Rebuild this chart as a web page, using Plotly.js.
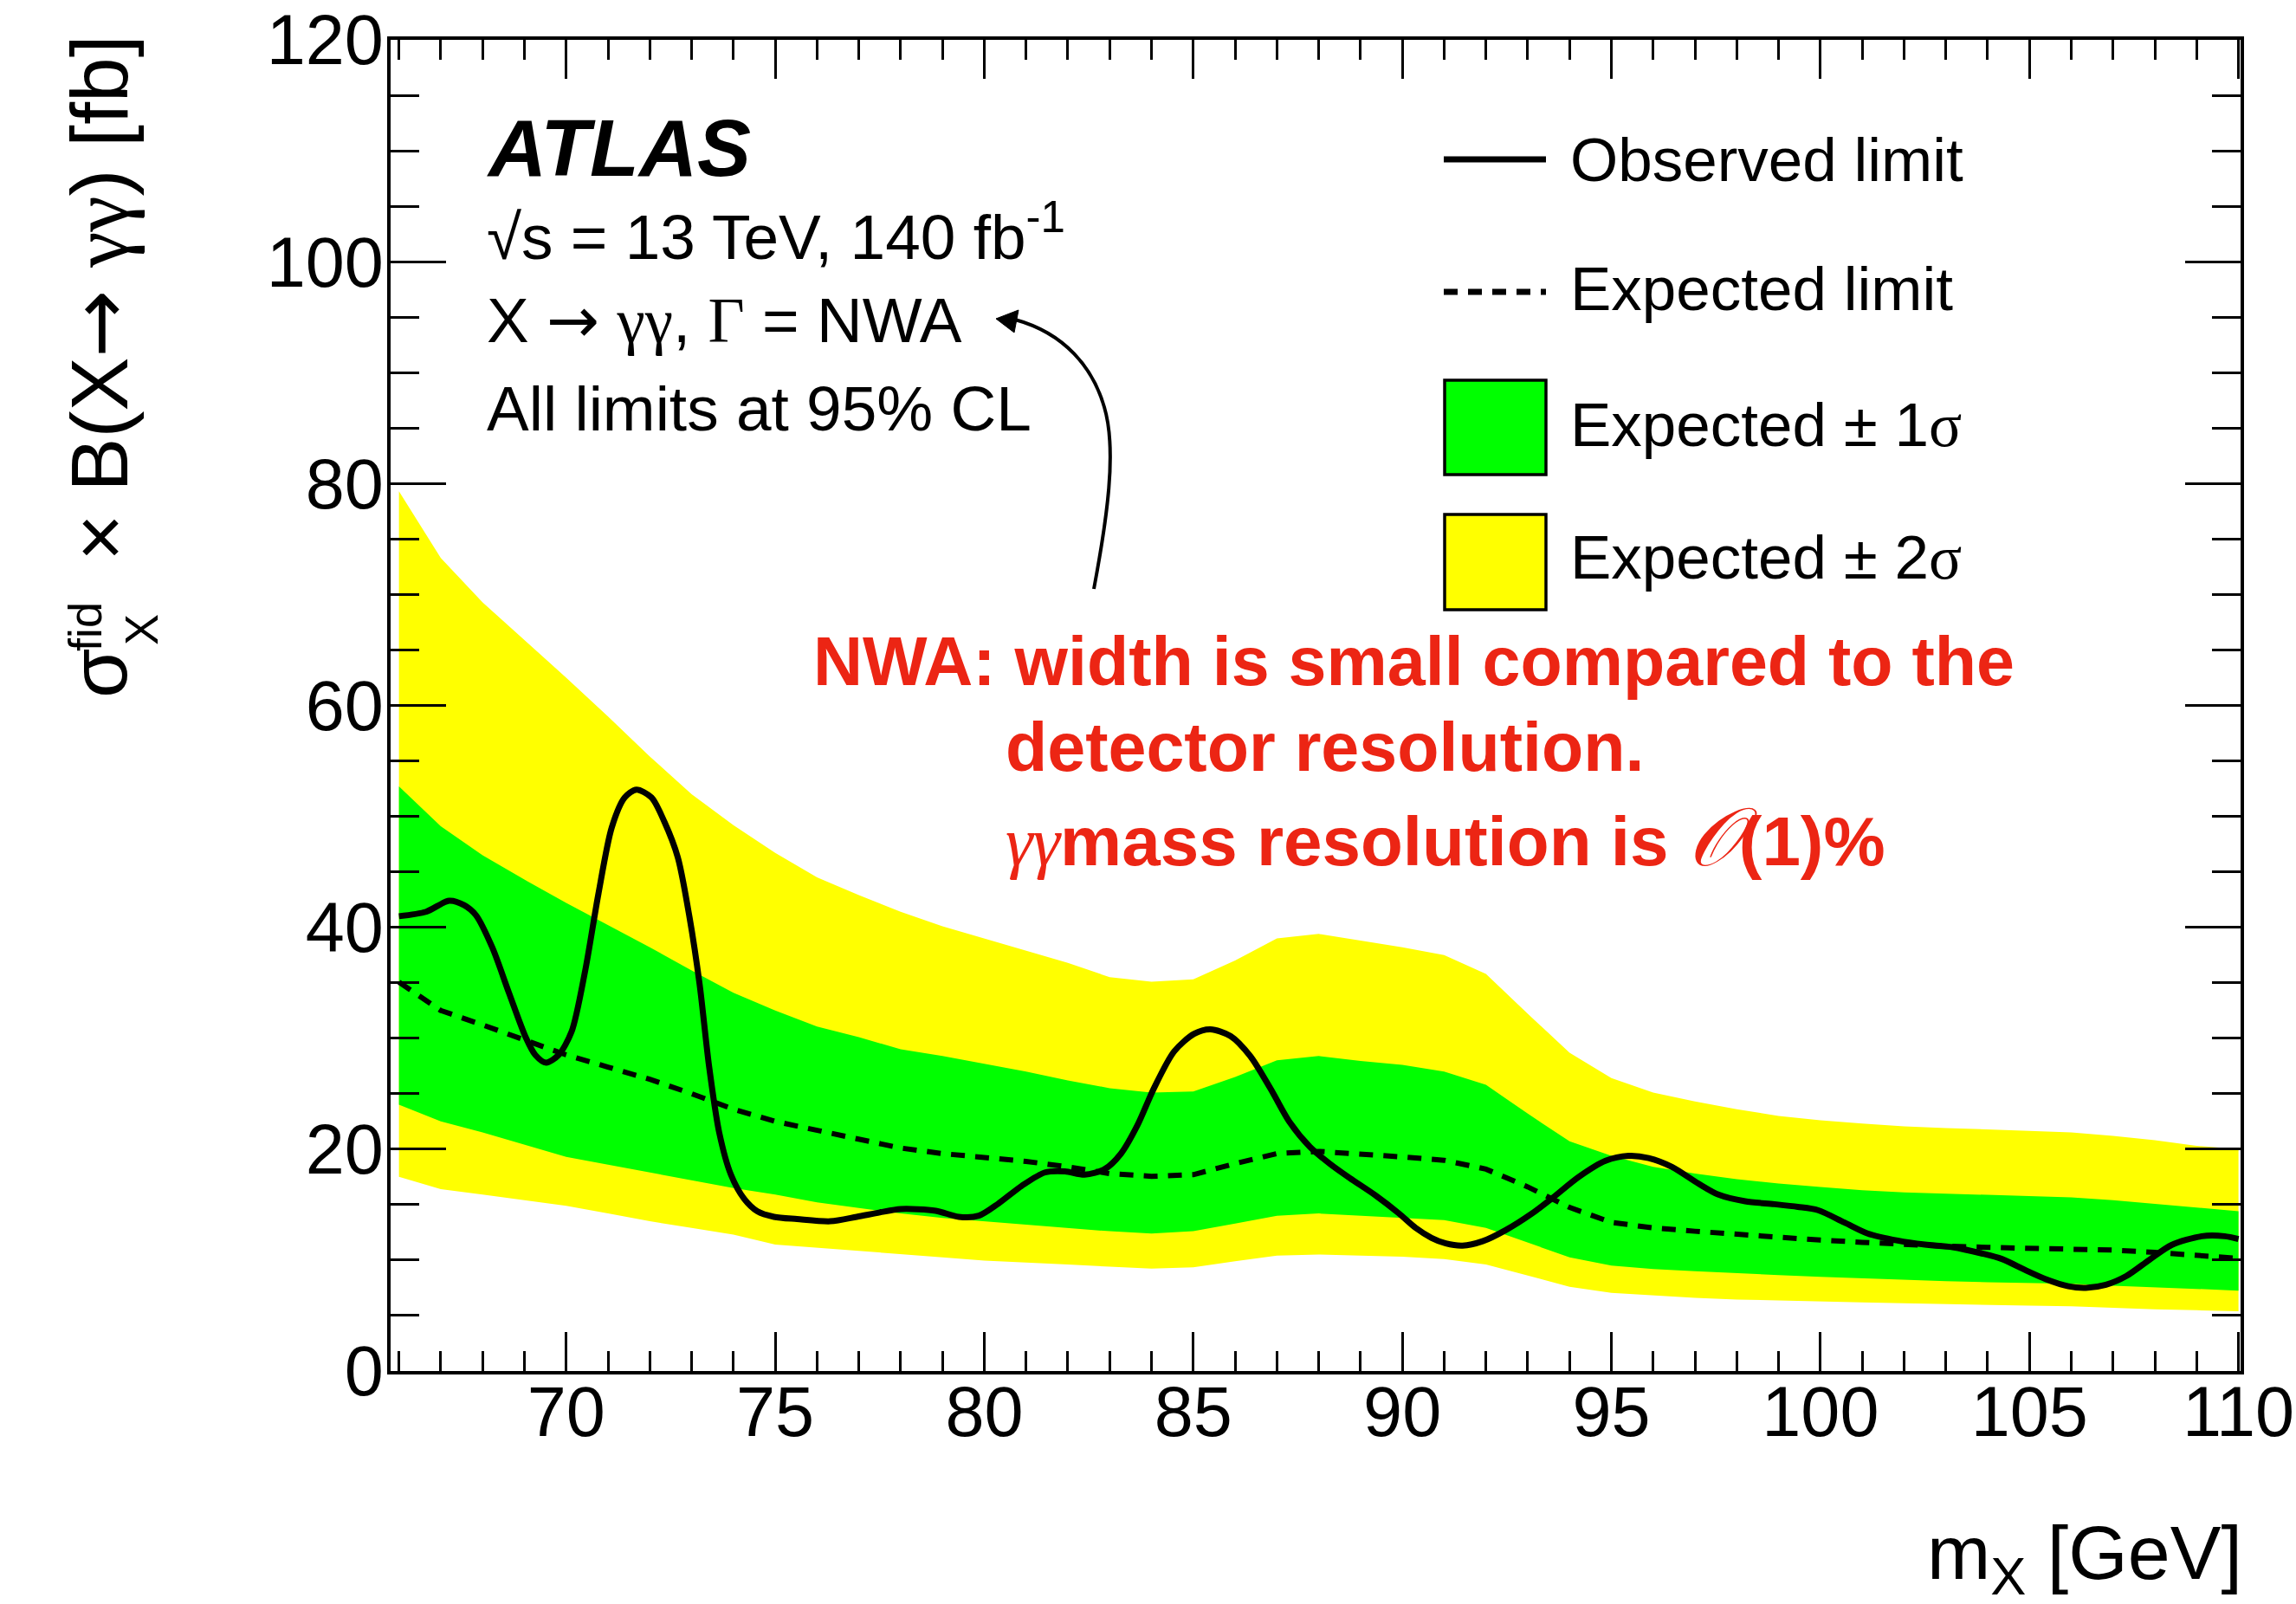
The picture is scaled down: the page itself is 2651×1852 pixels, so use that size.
<!DOCTYPE html>
<html>
<head>
<meta charset="utf-8">
<script src="https://cdn.plot.ly/plotly-3.0.1.min.js"></script>
<style>
  html, body { margin: 0; padding: 0; background: #ffffff; }
  #chart { width: 2651px; height: 1852px; }
</style>
</head>
<body>
<div id="chart"></div>
<script>
// Mass grid (GeV) of the expected limit and its uncertainty bands
const massGrid = [66, 67, 68, 69, 70, 71, 72, 73, 74, 75,
                  76, 77, 78, 79, 80, 81, 82, 83, 84, 85,
                  86, 87, 88, 89, 90, 91, 92, 93, 94, 95,
                  96, 97, 98, 99, 100, 101, 102, 103, 104, 105,
                  106, 107, 108, 109, 110];

// Expected 95% CL limit [fb]
const expectedLimit = [35.05, 32.5, 31.2, 29.8, 28.5, 27.4, 26.3, 25.0, 23.6, 22.5,
                       21.7, 20.9, 20.1, 19.6, 19.3, 18.9, 18.4, 17.8, 17.55, 17.7,
                       18.7, 19.6, 19.8, 19.6, 19.3, 19.0, 18.2, 16.6, 14.75, 13.4,
                       12.9, 12.6, 12.3, 12.0, 11.8, 11.6, 11.4, 11.25, 11.15, 11.1,
                       11.04, 10.9, 10.7, 10.4, 10.16];

// +-1 sigma band edges [fb]
const band1Up = [52.7, 49.1, 46.5, 44.3, 42.2, 40.2, 38.2, 36.1, 34.1, 32.5,
                 31.05, 30.1, 29.0, 28.4, 27.7, 27.0, 26.2, 25.5, 25.1, 25.2,
                 26.5, 28.0, 28.4, 27.96, 27.6, 27.0, 25.8, 23.2, 20.7, 19.4,
                 18.4, 17.8, 17.3, 16.9, 16.6, 16.3, 16.1, 16.0, 15.9, 15.8,
                 15.66, 15.4, 15.07, 14.7, 14.4];
const band1Down = [24.0, 22.5, 21.5, 20.4, 19.3, 18.6, 17.9, 17.2, 16.5, 15.9,
                   15.2, 14.7, 14.2, 13.8, 13.5, 13.2, 12.9, 12.6, 12.4, 12.6,
                   13.3, 14.0, 14.2, 14.0, 13.8, 13.6, 12.9, 11.6, 10.25, 9.5,
                   9.2, 9.0, 8.8, 8.65, 8.5, 8.35, 8.2, 8.1, 8.0, 7.93,
                   7.86, 7.7, 7.56, 7.4, 7.25];

// +-2 sigma band edges [fb]
const band2Up = [79.3, 73.3, 69.3, 65.9, 62.5, 59.0, 55.4, 52.0, 49.2, 46.7,
                 44.5, 42.9, 41.4, 40.1, 39.0, 37.9, 36.8, 35.5, 35.1, 35.3,
                 37.0, 39.0, 39.4, 38.8, 38.2, 37.5, 35.8, 32.2, 28.7, 26.4,
                 25.1, 24.3, 23.6, 23.0, 22.6, 22.3, 22.05, 21.9, 21.8, 21.65,
                 21.5, 21.2, 20.8, 20.3, 20.0];
const band2Down = [17.5, 16.4, 15.9, 15.4, 14.9, 14.2, 13.5, 12.9, 12.3, 11.4,
                   11.1, 10.8, 10.5, 10.25, 9.96, 9.8, 9.6, 9.4, 9.23, 9.34,
                   9.9, 10.4, 10.5, 10.4, 10.3, 10.1, 9.6, 8.6, 7.6, 7.05,
                   6.8, 6.6, 6.45, 6.35, 6.24, 6.18, 6.1, 6.05, 5.97, 5.9,
                   5.84, 5.7, 5.57, 5.48, 5.39];

// Observed 95% CL limit [fb]
const obsMass = [66.0, 66.65, 67.2, 67.56, 67.84, 68.23, 68.63, 69.03, 69.26, 69.52,
                 69.82, 70.13, 70.45, 70.77, 71.09, 71.40, 71.68, 72.04, 72.35, 72.67,
                 72.95, 73.19, 73.42, 73.66, 73.94, 74.26, 74.57, 74.97, 75.52, 76.32,
                 76.95, 77.5, 78.0, 78.84, 79.39, 79.87, 80.34, 80.9, 81.45, 81.93,
                 82.4, 82.88, 83.27, 83.67, 84.06, 84.54, 85.02, 85.41, 85.89, 86.36,
                 86.84, 87.31, 87.79, 88.26, 88.74, 89.37, 89.92, 90.32, 90.7, 91.04,
                 91.44, 91.92, 92.47, 93.1, 93.59, 94.22, 94.86, 95.41, 95.89, 96.45,
                 97.08, 97.56, 98.2, 98.9, 99.46, 99.94, 100.57, 101.13, 101.85, 102.5,
                 103.16, 103.86, 104.34, 104.9, 105.38, 105.93, 106.35, 106.83, 107.32, 107.87,
                 108.4, 109.12, 109.67, 110.0];
const obsLimit = [41.0, 41.4, 42.4, 42.0, 41.1, 38.2, 34.1, 30.1, 28.5, 27.8,
                  28.5, 30.6, 36.0, 43.0, 49.0, 51.7, 52.4, 51.7, 49.5, 46.3,
                  40.9, 34.9, 27.4, 21.5, 17.7, 15.5, 14.4, 13.9, 13.7, 13.5,
                  13.9, 14.3, 14.6, 14.45, 13.9, 14.0, 15.1, 16.7, 17.9, 18.0,
                  17.7, 18.2, 19.6, 22.2, 25.5, 28.8, 30.4, 30.8, 30.2, 28.4,
                  25.5, 22.4, 20.2, 18.7, 17.4, 15.8, 14.2, 12.9, 12.0, 11.5,
                  11.3, 11.7, 12.7, 14.2, 15.6, 17.5, 18.95, 19.4, 19.2, 18.4,
                  16.9, 15.9, 15.3, 15.04, 14.8, 14.5, 13.4, 12.4, 11.76, 11.4,
                  11.17, 10.6, 10.1, 9.1, 8.3, 7.64, 7.5, 7.78, 8.57, 10.03,
                  11.36, 12.15, 12.15, 11.9];

// Legend entries
const legendLabels = ['Observed limit', 'Expected limit',
                      'Expected ± 1<span style="font-family:\'Liberation Serif\'">σ</span>',
                      'Expected ± 2<span style="font-family:\'Liberation Serif\'">σ</span>'];

// ---- frame geometry (pixels) ----
const W = 2651, H = 1852;
const frameL = 451, frameR = 2587, frameT = 46, frameB = 1583;
const PX = px => (px - frameL) / (frameR - frameL);
const PY = py => (frameB - py) / (frameB - frameT);

const SANS = 'Liberation Sans, Arial, Helvetica, sans-serif';
const SERIF = "'Liberation Serif'";
const ARROWFONT = "'DejaVu Sans'";
const YELLOW = '#ffff00', GREEN = '#00ff00', RED = '#ec2514';
const DASH = '16px,12px';

const bandLine = { width: 0, color: 'rgba(0,0,0,0)' };
const traces = [
  { x: massGrid, y: band2Down, mode: 'lines', line: bandLine, hoverinfo: 'skip', showlegend: false },
  { x: massGrid, y: band2Up, mode: 'lines', line: bandLine, fill: 'tonexty', fillcolor: YELLOW,
    hoverinfo: 'skip', showlegend: false },
  { x: massGrid, y: band1Down, mode: 'lines', line: bandLine, hoverinfo: 'skip', showlegend: false },
  { x: massGrid, y: band1Up, mode: 'lines', line: bandLine, fill: 'tonexty', fillcolor: GREEN,
    hoverinfo: 'skip', showlegend: false },
  { x: massGrid, y: expectedLimit, mode: 'lines', name: 'Expected limit',
    line: { color: '#000000', width: 6, dash: DASH }, showlegend: false },
  { x: obsMass, y: obsLimit, mode: 'lines', name: 'Observed limit',
    line: { color: '#000000', width: 7, shape: 'spline', smoothing: 0.8 }, showlegend: false }
];

// left-anchored text placed by its baseline (pixels)
function textAt(left, baseline, size, text, extra) {
  return Object.assign({
    xref: 'paper', yref: 'paper', x: PX(left), y: PY(baseline + 0.212 * size + 2),
    xanchor: 'left', yanchor: 'bottom', showarrow: false, text: text, borderpad: 0,
    font: { family: SANS, size: size, color: '#000000' }
  }, extra || {});
}

const annotations = [
  textAt(561, 202, 93, '<b><i>ATLAS</i></b>'),
  textAt(561, 298, 73, '√s = 13 TeV, 140 fb<sup>-1</sup>'),
  textAt(561, 396, 73, 'X <span style="font-family:' + ARROWFONT + '">→</span> <span style="font-family:' + SERIF + '">γγ</span>, <span style="font-family:' + SERIF + '">Γ</span> = NWA'),
  textAt(561, 496, 73, 'All limits at 95% CL'),

  textAt(1812, 208, 71, legendLabels[0]),
  textAt(1812, 357, 71, legendLabels[1]),
  textAt(1812, 514, 71, legendLabels[2]),
  textAt(1812, 667, 71, legendLabels[3]),

  textAt(938, 790, 79, 'NWA: width is small compared to the',
         { font: { family: SANS, size: 79, color: RED, weight: 'bold' } }),
  textAt(1160, 889, 79, 'detector resolution.',
         { font: { family: SANS, size: 79, color: RED, weight: 'bold' } }),
  textAt(1160, 1003, 80,
         '<span style="font-family:' + SERIF + ';font-style:italic;font-weight:normal">γγ</span>mass resolution is ' +
         '<span style="font-family:\'DejaVu Serif\';font-style:italic;font-weight:normal;font-size:94px">𝒪</span>(1)%',
         { font: { family: SANS, size: 80, color: RED, weight: 'bold' } }),

  // x-axis title
  { xref: 'paper', yref: 'paper', x: PX(2590), y: PY(1742), xanchor: 'right', yanchor: 'top',
    showarrow: false, borderpad: 0, text: 'm<sub>X</sub> [GeV]',
    font: { family: SANS, size: 88, color: '#000000' } },

  // y-axis title, built from pieces so that the sub- and superscript stack
  { xref: 'paper', yref: 'paper', x: PX(114), y: PY(40), xanchor: 'center', yanchor: 'top',
    textangle: -90, showarrow: false, borderpad: 0,
    text: ' × B(X<span style="font-family:' + ARROWFONT + '">→</span> <span style="font-family:' + SERIF + '">γγ</span>) [fb]',
    font: { family: SANS, size: 93, color: '#000000' } },
  { xref: 'paper', yref: 'paper', x: PX(114), y: PY(778), xanchor: 'center', yanchor: 'middle',
    textangle: -90, showarrow: false, borderpad: 0, text: 'σ',
    font: { family: SANS, size: 93, color: '#000000' } },
  { xref: 'paper', yref: 'paper', x: PX(98), y: PY(724), xanchor: 'center', yanchor: 'middle',
    textangle: -90, showarrow: false, borderpad: 0, text: 'fid',
    font: { family: SANS, size: 54, color: '#000000' } },
  { xref: 'paper', yref: 'paper', x: PX(163), y: PY(727), xanchor: 'center', yanchor: 'middle',
    textangle: -90, showarrow: false, borderpad: 0, text: 'X',
    font: { family: SANS, size: 54, color: '#000000' } }
];

// curved pointer towards the "NWA" label
function pathFromPixels(cmds) {
  return cmds.map(c => c[0] + ' ' + c.slice(1).reduce((s, v, i, a) => {
    if (i % 2 === 0) s.push(PX(v).toFixed(5) + ',' + PY(a[i + 1]).toFixed(5));
    return s;
  }, []).join(' ')).join(' ');
}
const arrowCurve = pathFromPixels([
  ['M', 1263, 680],
  ['C', 1278, 600, 1290, 520, 1275, 470],
  ['C', 1262, 425, 1230, 385, 1172, 369]
]);
const arrowHead = pathFromPixels([
  ['M', 1150, 368], ['L', 1176, 358], ['L', 1171, 384], ['Z']
]);

const shapes = [
  { type: 'path', xref: 'paper', yref: 'paper', path: arrowCurve,
    line: { color: '#000000', width: 4 } },
  { type: 'path', xref: 'paper', yref: 'paper', path: arrowHead,
    fillcolor: '#000000', line: { color: '#000000', width: 1 } },
  // legend symbols
  { type: 'line', xref: 'paper', yref: 'paper', x0: PX(1667), x1: PX(1785), y0: PY(184), y1: PY(184),
    line: { color: '#000000', width: 7 } },
  { type: 'line', xref: 'paper', yref: 'paper', x0: PX(1667), x1: PX(1785), y0: PY(337), y1: PY(337),
    line: { color: '#000000', width: 7, dash: DASH } },
  { type: 'rect', xref: 'paper', yref: 'paper', x0: PX(1668), x1: PX(1785), y0: PY(548), y1: PY(439),
    fillcolor: GREEN, line: { color: '#000000', width: 3.5 } },
  { type: 'rect', xref: 'paper', yref: 'paper', x0: PX(1668), x1: PX(1785), y0: PY(704), y1: PY(594),
    fillcolor: YELLOW, line: { color: '#000000', width: 3.5 } }
];

const axisCommon = {
  showline: true, linewidth: 4, linecolor: '#000000', mirror: 'allticks',
  ticks: 'inside', tickwidth: 3, tickcolor: '#000000',
  showgrid: false, zeroline: false, ticklabeloverflow: 'allow',
  tickfont: { family: SANS, size: 81, color: '#000000' }
};

const layout = {
  width: W, height: H,
  margin: { l: frameL, r: W - frameR, t: frameT, b: H - frameB, pad: 0 },
  paper_bgcolor: '#ffffff', plot_bgcolor: '#ffffff',
  font: { family: SANS, color: '#000000' },
  showlegend: false,
  xaxis: Object.assign({}, axisCommon, {
    range: [65.8, 110.05], tick0: 0, dtick: 5, ticklen: 45, ticklabelstandoff: -26,
    minor: { ticks: 'inside', ticklen: 23, tickwidth: 3, tickcolor: '#000000', tick0: 0, dtick: 1, showgrid: false }
  }),
  yaxis: Object.assign({}, axisCommon, {
    range: [0, 120], tick0: 0, dtick: 20, ticklen: 64, ticklabelstandoff: -12,
    minor: { ticks: 'inside', ticklen: 33, tickwidth: 3, tickcolor: '#000000', tick0: 0, dtick: 5, showgrid: false }
  }),
  annotations: annotations,
  shapes: shapes
};

Plotly.newPlot('chart', traces, layout, { displayModeBar: false, staticPlot: true });
</script>
</body>
</html>
